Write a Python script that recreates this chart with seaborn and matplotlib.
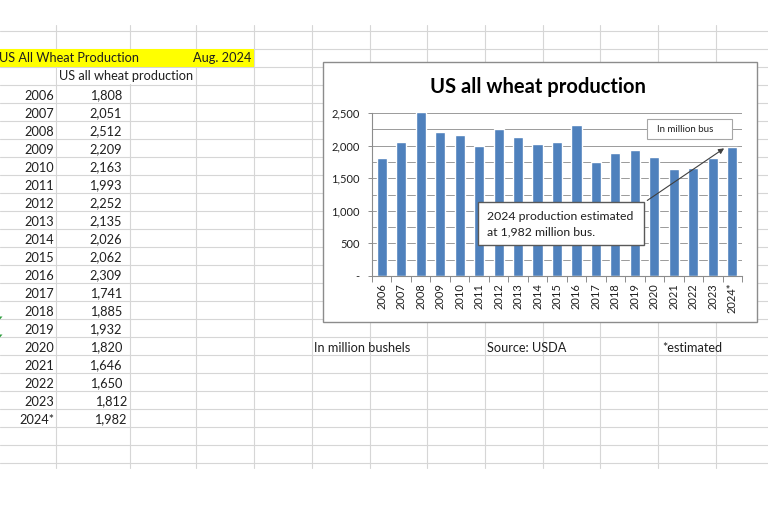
import matplotlib
matplotlib.use("Agg")
import matplotlib.pyplot as plt
import matplotlib.ticker as mtick
from matplotlib.patches import Rectangle, Polygon
import seaborn as sns
import pandas as pd

# data read from the sheet
years = ["2006", "2007", "2008", "2009", "2010", "2011", "2012", "2013", "2014",
         "2015", "2016", "2017", "2018", "2019", "2020", "2021", "2022", "2023", "2024*"]
production = [1808, 2051, 2512, 2209, 2163, 1993, 2252, 2135, 2026,
              2062, 2309, 1741, 1885, 1932, 1820, 1646, 1650, 1812, 1982]
y_ticks = [0, 500, 1000, 1500, 2000, 2500]
y_tick_labels = ["-", "500", "1,000", "1,500", "2,000", "2,500"]

sns.set_theme(style="white")
plt.rcParams["font.family"] = ["Lato", "DejaVu Sans"]

W, H = 768, 512
txt_col = "#1F1F1F"
grid_col = "#D6D6D6"
bar_col = "#4F81BD"
fs = 9.2  # sheet text size

fig = plt.figure(figsize=(W / 100, H / 100), dpi=100)


def px_axes(z):
    # axes covering the whole figure in pixel units (y down)
    a = fig.add_axes([0, 0, 1, 1], zorder=z)
    a.set_xlim(0, W)
    a.set_ylim(H, 0)
    a.axis("off")
    a.patch.set_alpha(0)
    return a


# spreadsheet background
bg = px_axes(0)
col_lines = [56, 130, 196, 254, 312, 370, 427, 485, 543, 600, 658, 716]
for y in range(31, 470, 18):
    bg.plot([0, W], [y, y], color=grid_col, lw=0.8, zorder=1)
for x in col_lines:
    bg.plot([x, x], [25, 468], color=grid_col, lw=0.8, zorder=1)

bg.add_patch(Rectangle((0, 49), 254, 18, facecolor="#FFFF00", edgecolor="none", zorder=2))
bg.text(-1, 58.5, "US All Wheat Production", ha="left", va="center", fontsize=fs, color=txt_col, zorder=3)
bg.text(251, 58.5, "Aug. 2024", ha="right", va="center", fontsize=fs, color=txt_col, zorder=3)
# overflowing header hides the cell border behind it
bg.add_patch(Rectangle((57, 67.6), 138, 16.8, facecolor="white", edgecolor="none", zorder=2))
bg.text(59, 76.5, "US all wheat production", ha="left", va="center", fontsize=fs, color=txt_col, zorder=3)

for i, (yr, val) in enumerate(zip(years, production)):
    yy = 95.5 + 18 * i
    bg.text(54, yy, yr, ha="right", va="center", fontsize=fs, color=txt_col, zorder=3)
    xr = 127 if i >= 17 else 122
    bg.text(xr, yy, f"{val:,}", ha="right", va="center", fontsize=fs, color=txt_col, zorder=3)

# little green error flags at the left edge
for yf in [318, 336]:
    bg.add_patch(Polygon([[0, yf - 1.5], [2.5, yf - 1.5], [0, yf + 1.5]], closed=True,
                         facecolor="#2E9E3E", edgecolor="none", zorder=3))

# notes below the chart
bg.text(314, 347.5, "In million bushels", ha="left", va="center", fontsize=fs, color=txt_col, zorder=3)
bg.text(487, 347.5, "Source: USDA", ha="left", va="center", fontsize=fs, color=txt_col, zorder=3)
bg.text(662, 347.5, "*estimated", ha="left", va="center", fontsize=fs, color=txt_col, zorder=3)

# chart frame + title
bg.add_patch(Rectangle((323, 62), 434, 260, facecolor="white", edgecolor="#8C8C8C", lw=1, zorder=4))
bg.text(538, 87, "US all wheat production", ha="center", va="center", fontsize=14.5,
        fontweight="bold", color="black", zorder=5)

# the bar chart itself
ax = fig.add_axes([372 / W, 1 - 276 / H, 370 / W, 163 / H], zorder=1)
df = pd.DataFrame({"year": years, "production": production})
sns.barplot(data=df, x="year", y="production", color=bar_col, saturation=1,
            width=0.52, ax=ax, zorder=2)

ax.set_xlim(-0.5, len(years) - 0.5)
ax.set_ylim(0, 2500)
ax.set_yticks(y_ticks, y_tick_labels)
ax.yaxis.set_minor_locator(mtick.MultipleLocator(250))
ax.xaxis.set_minor_locator(mtick.FixedLocator([i - 0.5 for i in range(len(years) + 1)]))
ax.grid(axis="y", which="both", color="#9A9A9A", lw=0.7)
ax.set_axisbelow(True)
ax.set_xlabel("")
ax.set_ylabel("")

ax.tick_params(axis="x", which="major", length=0, pad=5, labelsize=8, labelrotation=90, labelcolor=txt_col)
ax.tick_params(axis="x", which="minor", length=4, width=0.7, color="#8C8C8C", direction="out", bottom=True)
ax.tick_params(axis="y", which="major", length=3, width=0.7, color="#8C8C8C", direction="out",
               left=True, pad=6, labelsize=8, labelcolor=txt_col)
ax.tick_params(axis="y", which="minor", length=0)

for side in ["top", "right"]:
    ax.spines[side].set_visible(False)
for side in ["left", "bottom"]:
    ax.spines[side].set_color("#8C8C8C")
    ax.spines[side].set_linewidth(0.8)

# arrow to the 2024 bar
ax.annotate("", xy=(len(years) - 1.3, production[-1]), xycoords="data",
            xytext=(645, H - 202), textcoords="figure pixels",
            arrowprops=dict(arrowstyle="-|>", color="#404040", lw=0.8, mutation_scale=8),
            annotation_clip=False)

# text boxes on top of the bars
ov = px_axes(3)
ov.add_patch(Rectangle((647, 119), 85, 20, facecolor="white", edgecolor="#A6A6A6", lw=0.8))
ov.text(657, 129, "In million bus", ha="left", va="center", fontsize=7, color=txt_col)
ov.add_patch(Rectangle((478, 202), 166, 43, facecolor="white", edgecolor="#595959", lw=1))
ov.text(487, 224, "2024 production estimated\nat 1,982 million bus.", ha="left", va="center",
        fontsize=8.8, color=txt_col, linespacing=1.5)

fig.savefig("out.png", dpi=100)
